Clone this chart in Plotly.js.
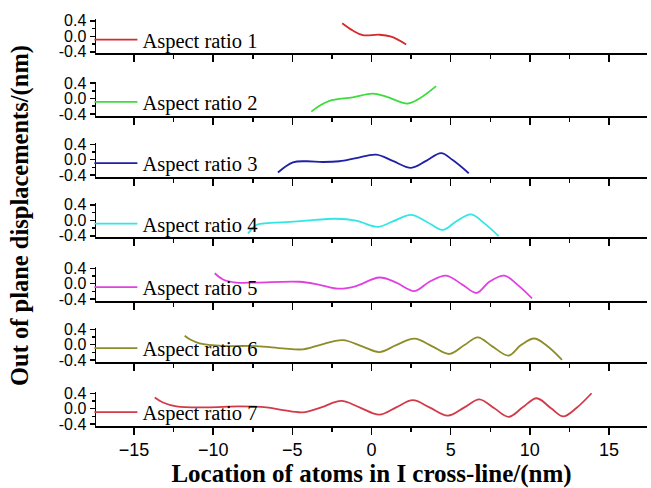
<!DOCTYPE html>
<html><head><meta charset="utf-8">
<script src="https://cdn.plot.ly/plotly-3.0.1.min.js"></script>
<style>html,body{margin:0;padding:0;background:#fff}</style>
</head><body><div id="chart" style="width:651px;height:488px"></div>
<script>
// ---- data ----
const seriesNames = ["Aspect ratio 1","Aspect ratio 2","Aspect ratio 3","Aspect ratio 4","Aspect ratio 5","Aspect ratio 6","Aspect ratio 7"];
const x1 = [-1.85,-1.18,-0.55,0.5,1.24,2.19];
const y1 = [0.34,0.15,0.03,0.04,-0.01,-0.21];
const x2 = [-3.8,-3.28,-2.65,-1.18,0.08,0.93,2.29,3.03,4.08];
const y2 = [-0.34,-0.19,-0.06,0.03,0.125,0.05,-0.13,0.0,0.32];
const x3 = [-5.91,-4.96,-4.12,-3.07,-2.02,-0.97,0.30,1.34,2.5,3.45,4.40,5.13,6.14];
const y3 = [-0.33,-0.07,-0.04,-0.06,-0.04,0.04,0.13,-0.03,-0.21,-0.03,0.17,-0.01,-0.35];
const x4 = [-7.8,-7.28,-6.75,-5.17,-4.12,-2.23,-0.97,0.40,1.34,2.5,3.45,4.5,5.34,6.29,7.13,8.03];
const y4 = [-0.34,-0.12,-0.08,-0.04,-0.01,0.04,-0.01,-0.17,-0.03,0.14,-0.03,-0.25,-0.03,0.155,-0.08,-0.41];
const x5 = [-9.9,-9.38,-8.54,-7.27,-4.54,-3.28,-2.02,-0.97,0.50,1.56,2.71,3.66,4.71,5.76,6.64,7.44,8.39,9.23,10.14];
const y5 = [0.27,0.11,0.03,0.03,0.05,-0.03,-0.13,-0.06,0.16,0.03,-0.19,0.05,0.21,-0.03,-0.24,0.05,0.21,-0.03,-0.38];
const x6 = [-11.8,-11.48,-10.85,-9.38,-7.27,-5.6,-4.33,-3.28,-1.81,-0.55,0.50,1.56,2.71,3.87,4.92,5.87,6.71,7.65,8.66,9.44,10.28,11.02,12.03];
const y6 = [0.23,0.14,0.035,-0.03,-0.035,-0.095,-0.12,-0.01,0.12,-0.05,-0.19,-0.01,0.155,-0.05,-0.24,-0.01,0.19,-0.05,-0.28,-0.01,0.16,-0.01,-0.39];
const x7 = [-13.69,-13.17,-12.32,-10.43,-8.33,-6.64,-5.6,-4.33,-3.17,-1.91,-0.76,0.50,1.56,2.61,3.66,4.82,5.87,6.81,7.76,8.66,9.55,10.43,11.34,12.11,12.92,13.9];
const y7 = [0.29,0.16,0.06,0.035,0.06,0.035,-0.035,-0.095,0.035,0.2,0.035,-0.155,0.035,0.22,0.035,-0.18,0.035,0.24,0.01,-0.21,0.035,0.27,0.01,-0.2,0.01,0.40];
const yTickVals = [-0.4, 0.0, 0.4];
const yTickText = ["-0.4", "0.0", "0.4"];
const xTitle = "Location of atoms in I cross-line/(nm)";
const yTitle = "Out of plane displacements/(nm)";

// ---- styling ----
const xs = [x1,x2,x3,x4,x5,x6,x7];
const ys = [y1,y2,y3,y4,y5,y6,y7];
const colors = ["#d42a2a","#3ddc3d","#1f1fa8","#33e6e6","#e040e0","#8c8c28","#d23a4a"];
const SERIF = "Liberation Serif, Times New Roman, serif";
const SANS = "Liberation Sans, Arial, sans-serif";
const W=651, H=488, ML=96, MR=4, MT=19, MB=62;
const plotH = H-MT-MB;
const bottomsPx = [53.3,115.5,176.7,237.3,300.7,361.7,425.7];
const subH = 34;
function py(p){ return (H-MB-p)/plotH; }

const traces = [];
const layout = {
  width: W, height: H,
  margin: {l: ML, r: MR, t: MT, b: MB},
  font: {family: SERIF, color: "#000"},
  paper_bgcolor: "#fff", plot_bgcolor: "rgba(0,0,0,0)",
  showlegend: true,
  annotations: [{
    text: "<b>" + yTitle + "</b>", textangle: -90, xref: "paper", yref: "paper",
    x: (20-ML)/(W-ML-MR), y: py(216), xanchor: "center", yanchor: "middle",
    showarrow: false,
    font: {family: SERIF, size: 24.5, color: "#000"}
  }]
};

for (let i=0;i<7;i++){
  const s = i===0 ? "" : String(i+1);
  traces.push({
    x: xs[i], y: ys[i], xaxis: "x"+s, yaxis: "y"+s,
    type: "scatter", mode: "lines", name: seriesNames[i],
    legend: "legend"+s,
    line: {color: colors[i], width: 1.8, shape: "spline", smoothing: 1}
  });
  const B = bottomsPx[i];
  layout["xaxis"+s] = {
    domain: [0,1], range: [-17.4, 17.4], anchor: "y"+s,
    showline: true, linecolor: "#000", linewidth: 2,
    ticks: "outside", ticklen: 7, tickwidth: 1.5, tickcolor: "#000",
    tick0: 0, dtick: 5,
    minor: {dtick: 2.5, tick0: 0, ticks: "outside", ticklen: 4, tickwidth: 1.5, tickcolor: "#000"},
    showticklabels: i===6, showgrid: false, zeroline: false,
    tickfont: {family: SANS, size: 18, color: "#000"}
  };
  if (i!==0) layout["xaxis"+s].matches = "x";
  if (i===6) layout["xaxis"+s].title = {text: "<b>" + xTitle + "</b>", standoff: 3,
      font: {family: SERIF, size: 25, color: "#000"}};
  layout["yaxis"+s] = {
    domain: [py(B), py(B-subH)], range: [-0.44, 0.44], anchor: "x"+s,
    showline: true, linecolor: "#000", linewidth: 1.5,
    ticks: "outside", ticklen: 5, tickwidth: 1.5, tickcolor: "#000",
    tickmode: "array", tickvals: yTickVals, ticktext: yTickText,
    minor: {tickvals: [-0.2, 0.2], ticks: "outside", ticklen: 3, tickwidth: 1.5, tickcolor: "#000"},
    showgrid: false, zeroline: false,
    tickfont: {family: SANS, size: 16, color: "#000"}
  };
  layout["legend"+s] = {
    x: -0.012, xanchor: "left", y: py(B-17+3.5), yanchor: "middle",
    bgcolor: "rgba(0,0,0,0)", borderwidth: 0, itemwidth: 43,
    font: {family: SERIF, size: 20.5, color: "#000"}
  };
}

Plotly.newPlot("chart", traces, layout, {displayModeBar: false, staticPlot: true});
</script></body></html>
